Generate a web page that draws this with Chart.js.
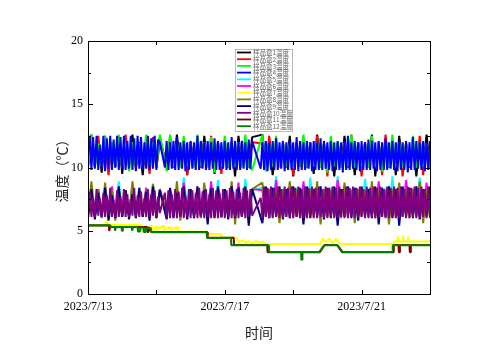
<!DOCTYPE html>
<html>
<head>
<meta charset="utf-8">
<script src="https://cdn.jsdelivr.net/npm/chart.js@4.4.0/dist/chart.umd.min.js"></script>
<style>
    html, body { margin: 0; padding: 0; background: #fff; }
    #wrap { width: 500px; height: 353px; }
</style>
</head>
<body>
<div id="wrap"><canvas id="tempChart" width="500" height="353"></canvas></div>
<script>
// days since 2023/7/13 00:00
const dayTicks = [0, 4, 8];
const dayTickLabels = ["2023/7/13", "2023/7/17", "2023/7/21"];
const tempTicks = [0, 5, 10, 15, 20];

const boxNames = ["样品盒1温度", "样品盒2温度", "样品盒3温度", "样品盒4温度", "样品盒5温度", "样品盒6温度",
    "样品盒7温度", "样品盒8温度", "样品盒9温度", "样品盒10温度", "样品盒11温度", "样品盒12温度"];
const boxColors = ["#000000", "#ff0000", "#00ff00", "#0000ff", "#00ffff", "#ff00ff",
    "#ffff00", "#808000", "#000080", "#800080", "#800000", "#008000"];

// readings every 0.1 day (coarse) or 0.05 day (fine); null = missing reading
const coarseStep = 0.1;
const fineStep = 0.05;

const box1Temps = [
    10.2, 12.6, 10.1, 12.0, 9.6, 12.5, 10.2, 11.9, 10.0, 12.4, 9.5, 12.0, 10.1, 12.6, 10.0, 11.9, 9.4, 12.3, 10.2, 12.0,
    10.0, 12.4, null, 10.1, 11.9, 10.0, 12.6, 10.2, 11.8, 9.4, 12.0, 10.1, 11.9, 10.0, 12.5, 10.1, 11.9, 9.5, 12.0, 10.2,
    11.9, 10.0, 12.0, 9.3, 12.5, 10.1, 11.9, 10.0, 12.4, null, null, 12.6, 10.1, 11.9, 9.4, 12.0, 10.2, 11.8, 10.0, 12.5,
    9.3, 11.9, 10.1, 12.0, 10.0, 11.9, 9.5, 12.6, 10.2, 11.9, 10.0, 12.0, 9.3, 11.9, 10.1, 12.5, 10.0, 11.9, 9.4, 12.0,
    10.2, 11.9, 10.0, 12.6, 9.3, 11.9, 10.1, 12.0, 10.0, 11.9, 9.4, 12.5, 10.2, 11.9, 10.0, 12.0, 9.3, 11.9, 10.1, 12.6, 10.0
];
const box2Temps = [
    10.0, 12.0, 10.1, 12.5, 10.0, 11.9, 9.4, 12.0, 10.1, 11.9, 10.0, 12.6, 10.2, 11.9, 10.0, 12.0, 10.1, 11.9, 9.5, 12.4,
    10.0, 11.9, null, 10.1, 12.5, 10.0, 11.9, 10.2, 12.0, 9.4, 11.9, 10.1, 12.0, 10.0, 11.9, 10.1, 12.5, 10.0, 11.9, 9.5,
    12.0, 10.1, 11.9, 10.0, 12.0, 10.2, 11.9, 10.0, 12.0, null, null, 11.9, 10.1, 12.5, 10.0, 11.9, 10.1, 12.0, 10.0, 11.9,
    9.4, 12.0, 10.1, 11.9, 10.0, 12.0, 10.2, 12.5, 10.0, 11.9, 9.3, 12.0, 10.1, 11.9, 10.0, 12.0, 10.2, 12.6, 10.0, 11.9,
    9.3, 12.0, 10.1, 11.9, 10.0, 12.0, 9.4, 12.6, 10.1, 11.9, 10.0, 12.0, 9.3, 11.9, 10.1, 12.0, 10.0, 12.5, 9.4, 11.9, 10.1
];
const box3Temps = [
    10.1, 12.6, 10.0, 11.9, 10.1, 12.5, 10.0, 12.0, 10.1, 12.6, 10.0, 11.9, 9.7, 12.0, 10.1, 11.9, 10.0, 12.6, 10.1, 12.0,
    10.0, 12.6, null, 9.7, 12.6, 10.1, 12.0, 10.0, 12.5, 10.1, 11.9, 10.0, 12.6, 10.1, 12.0, 10.0, 12.4, 9.6, 12.0, 10.1,
    12.5, 10.0, 11.9, 10.1, 12.0, 10.0, 12.6, 10.1, 9.8, null, null, 12.6, 9.7, 11.9, 10.1, 12.5, 10.0, 12.0, 10.1, 11.9,
    10.0, 12.0, 10.1, 12.6, 10.0, 11.9, 10.1, 12.0, 10.0, 11.9, 9.6, 12.5, 10.1, 12.0, 10.0, 11.9, 10.1, 12.6, 10.0, 12.0,
    10.1, 11.9, 10.0, 12.5, 10.1, 12.0, 9.7, 11.9, 10.0, 12.6, 10.1, 12.0, 10.0, 11.9, 10.1, 12.5, 10.0, 12.0, 10.1, 11.9, 10.0
];
const box4Temps = [
    11.0, 12.5, 9.8, 12.4, 9.9, 12.5, 9.8, 11.8, 9.9, 12.5, 9.7, 12.3, 9.9, 12.5, 9.8, 12.2, 10.0, 12.5, 9.8, 12.4,
    9.9, 12.5, 9.8, 12.1, 9.9, 12.5, 9.8, 12.3, 9.7, 12.5, 9.9, 12.4, 9.8, 12.0, 9.9, 12.5, 9.8, 12.3, 9.9, 12.5,
    9.8, 12.2, 12.0, null, null, 10.0, 12.1, 9.8, 12.0, 9.9, 12.1, 9.8, 12.4, 9.8, 12.0, 9.9, 12.1, 9.7, 12.0, 9.8,
    12.1, 9.9, 12.0, 9.8, 12.5, 9.8, 12.1, 9.9, 12.0, 9.8, 12.1, 9.8, 12.0, 9.9, 12.3, 9.8, 12.1, 9.8, 12.0, 9.9,
    12.1, 9.8, 12.0, 9.8, 12.4, 9.9, 12.1, 9.8, 12.0, 9.8, 12.1, 9.9, 12.0, 9.8, 12.2, 9.9, 12.1, null, null, null,
    null, 9.9, 12.0, 9.8, 12.1, 9.7, 12.0, 9.8, 12.1, 9.8, 12.3, 9.8, 12.0, 9.9, 12.1, 9.7, 12.0, 9.8, 12.1, 9.8,
    12.0, 9.8, 12.4, 9.7, 12.1, 9.8, 12.0, 9.8, 12.1, 9.9, 12.0, 9.7, 12.1, 9.8, 12.0, 9.8, 12.3, 9.8, 12.1, 9.9,
    12.0, 9.8, 12.1, 9.7, 12.0, 9.8, 12.1, 9.8, 12.0, 9.6, 12.1, 9.8, 12.5, 9.8, 12.0, 9.9, 12.1, 9.8, 12.0, 9.7,
    12.1, 9.8, 12.0, 9.8, 12.2, 9.8, 12.1, 9.9, 12.0, 9.7, 12.1, 9.8, 12.0, 9.8, 12.3, 9.8, 12.0, 9.9, 12.1, 9.8,
    12.0, 9.7, 12.1, 9.8, 12.0, 9.8, 12.1, 9.6, 12.0, 9.8, 12.4, 9.8, 12.1, 9.9, 12.0, 9.8, 12.1, 9.7, 12.0, 9.8,
    12.1, 9.9
];
const box5Temps = [
    6.5, 8.2, 6.3, 7.9, 6.4, 8.3, 6.3, 8.0, 6.5, 8.9, 6.3, 8.1, 6.4, 8.2, 6.3, 8.0, 6.4, 7.9, 6.3, 8.7,
    6.4, 8.2, null, 6.3, 8.3, 6.4, 8.2, 6.3, 9.2, 6.5, 8.3, 6.3, 8.2, 6.4, 8.4, 6.3, 8.2, 6.4, 9.0, 6.3,
    8.3, 6.4, 8.2, 6.3, 8.4, 6.4, 9.1, 6.3, 8.2, null, null, 8.4, 6.3, 8.2, 6.4, 9.3, 6.3, 8.3, 6.4, 8.2,
    6.3, 8.4, 6.4, 8.2, 6.3, 9.2, 6.4, 8.3, 6.3, 8.2, 6.4, 8.4, 6.3, 9.3, 6.4, 8.2, 6.3, 8.3, 6.4, 8.2,
    6.3, 9.1, 6.4, 8.3, 6.3, 8.2, 6.4, 8.4, 6.3, 9.3, 6.4, 8.2, 6.3, 8.3, 6.4, 8.2, 6.3, 9.2, 6.4, 8.3, 6.3
];
const box6Temps = [
    6.6, 7.8, 6.3, 8.3, 6.2, 7.6, 6.4, 8.5, 6.2, 7.9, 6.3, 8.2, 6.2, 8.6, 6.3, 7.8, 6.2, 8.4, 6.3, 8.0,
    6.2, 8.3, null, 6.4, 8.1, 6.2, 8.3, 6.3, 8.8, 6.2, 8.2, 6.3, 8.3, 6.2, 8.2, 6.3, 8.9, 6.2, 8.3, 6.3,
    8.2, 6.2, 8.3, 6.3, 8.8, 6.2, 8.2, 6.3, 8.3, null, null, 8.2, 6.2, 8.3, 6.3, 9.0, 6.2, 8.2, 6.3, 8.3,
    6.2, 8.2, 6.3, 8.9, 6.2, 8.3, 6.3, 8.2, 6.2, 8.3, 6.3, 8.2, 6.2, 9.0, 6.3, 8.3, 6.2, 8.2, 6.3, 8.3,
    6.2, 8.2, 6.3, 8.3, 6.2, 8.9, 6.3, 8.2, 6.2, 8.3, 6.3, 8.2, 6.2, 9.0, 6.3, 8.3, 6.2, 8.2, 6.3, 8.8, 6.2
];
const box7Days = [
    0, 0.5, 0.52, 0.54, 0.56, 0.58, 1.55, 1.56, 1.70, 1.72,
    1.85, 1.87, 2.00, 2.02, 2.20, 2.22, 2.40, 2.42, 2.62, 2.65,
    3.45, 3.48, 3.88, 3.92, 4.35, 4.40, 4.55, 4.60, 4.72, 4.78,
    4.92, 4.98, 5.12, 5.18, 6.80, 6.86, 6.95, 7.05, 7.15, 7.25,
    7.35, 7.42, 8.92, 8.95, 9.05, 9.06, 9.07, 9.20, 9.21, 9.22,
    9.35, 9.36, 9.37, 10.05
];
const box7Temps = [
    5.45, 5.45, 5.8, 5.45, 5.7, 5.45, 5.45, 5.0, 5.4, 5.05,
    5.4, 5.0, 5.35, 5.05, 5.4, 5.0, 5.3, 5.05, 5.3, 4.92,
    4.92, 4.75, 4.75, 4.45, 4.45, 4.1, 4.25, 4.05, 4.2, 4.0,
    4.2, 4.05, 4.15, 3.95, 3.95, 4.4, 4.1, 4.4, 4.05, 4.35,
    4.0, 3.95, 3.95, 4.15, 4.15, 4.6, 4.15, 4.15, 4.6, 4.15,
    4.15, 4.55, 4.15, 4.15
];
const box8Temps = [
    6.2, 8.9, 6.1, 8.3, 6.0, 8.8, 6.1, 8.2, 5.8, 8.3, 6.1, 8.2, 6.1, 8.9, 6.0, 8.3, 6.1, 8.2, 6.1, 8.7,
    6.0, 8.3, null, 6.1, 8.2, 6.1, 8.9, 5.8, 8.3, 6.1, 8.2, 6.1, 8.3, 6.0, 8.8, 6.1, 8.2, 6.1, 8.3, 6.0,
    8.2, 6.1, 8.9, 5.5, 8.3, 6.1, 8.2, 6.1, 8.3, null, null, 8.8, 6.1, 8.3, 6.1, 8.2, 5.6, 8.3, 6.1, 8.9,
    6.1, 8.3, 6.1, 8.2, 6.0, 8.3, 6.1, 8.9, 5.5, 8.3, 6.1, 8.2, 6.1, 8.3, 6.0, 8.8, 6.1, 8.2, 5.6, 8.3,
    6.1, 8.2, 6.1, 8.9, 6.0, 8.3, 6.1, 8.2, 5.5, 8.3, 6.1, 8.8, 6.1, 8.2, 6.0, 8.3, 6.1, 8.9, 5.6, 8.2, 6.1
];
const box9Temps = [
    6.0, 8.3, 5.9, 8.0, 6.1, 8.4, 5.8, 7.8, 6.0, 8.5, 6.1, 8.2, 5.9, 7.9, 6.0, 8.4, 6.1, 8.1, 5.8, 8.5,
    6.0, 8.2, null, 5.9, 8.4, 6.0, 8.0, 6.1, 8.5, 5.9, 8.3, 6.0, 8.5, 6.1, 8.2, 5.5, 8.4, 6.0, 8.5, 6.1,
    8.3, 5.9, 8.5, 6.0, 8.4, 6.1, 8.5, 5.4, 8.3, null, null, 5.6, 8.5, 6.0, 8.4, 6.1, 8.5, 5.9, 8.3, 6.0,
    8.5, 6.1, 8.4, 5.5, 8.5, 6.0, 8.3, 6.1, 8.5, 5.9, 8.4, 6.0, 8.5, 5.4, 8.3, 6.1, 8.5, 6.0, 8.4, 5.8,
    8.5, 6.1, 8.3, 6.0, 8.5, 5.5, 8.4, 6.1, 8.5, 6.0, 8.3, 5.4, 8.5, 6.1, 8.4, 6.0, 8.5, 5.9, 8.3, 6.1, 8.5
];
const box10Temps = [
    6.3, 8.1, 6.1, 7.6, 6.1, 8.3, 6.2, 7.5, 6.1, 8.0, 6.1, 7.8, 6.2, 8.4, 6.1, 7.4, 6.1, 8.2, 6.1, 7.7,
    6.2, 8.3, 6.1, 7.9, 6.1, 7.5, 6.2, 8.4, 6.1, 7.8, 6.1, 8.1, 6.2, 7.6, 6.1, 8.3, 6.1, 7.9, 6.2, 8.2,
    6.1, 7.7, 6.4, null, null, 8.0, 6.1, 8.2, 6.0, 7.9, 6.1, 8.3, 6.0, 8.1, 6.1, 8.4, 6.0, 7.8, 6.1, 8.3,
    6.0, 8.2, 6.1, 8.0, 6.0, 8.4, 6.1, 8.1, 6.0, 8.3, 6.1, 7.9, 6.0, 8.4, 6.1, 8.2, 6.0, 8.0, 6.1, 8.3,
    6.0, 8.2, 6.1, 8.4, 6.0, 8.1, 6.1, 8.3, 6.0, 8.0, 6.1, 8.4, 6.0, 8.2, 6.1, 8.3, 6.2, null, null, null,
    null, 7.6, 6.0, 8.5, 6.1, 8.4, 6.0, 8.5, 6.0, 8.4, 6.1, 8.5, 6.0, 8.3, 6.0, 8.5, 6.1, 8.4, 6.0, 8.5,
    6.0, 8.4, 6.1, 8.5, 6.0, 8.3, 6.0, 8.5, 6.0, 8.4, 6.1, 8.5, 6.0, 8.4, 6.0, 8.5, 6.1, 8.3, 6.0, 8.5,
    6.0, 8.4, 6.1, 8.5, 6.0, 8.4, 6.0, 8.5, 6.1, 8.3, 6.0, 8.5, 6.0, 8.4, 6.1, 8.5, 6.0, 8.4, 6.0, 8.5,
    6.1, 8.3, 6.0, 8.5, 6.0, 8.4, 6.1, 8.5, 6.0, 8.4, 6.0, 8.5, 6.1, 8.3, 6.0, 8.5, 6.0, 8.4, 6.1, 8.5,
    6.0, 8.4, 6.0, 8.5, 6.1, 8.3, 6.0, 8.5, 6.0, 8.4, 6.1, 8.5, 6.0, 8.4, 6.0, 8.5, 6.1, 8.3, 6.0, 8.5,
    6.0, 8.4
];
const box11Days = [
    0, 0.61, 0.62, 0.64, 0.65, 1.73, 1.74, 1.76, 1.77, 1.86,
    3.49, 3.50, 4.26, 4.27, 5.24, 5.25, 6.78, 6.92, 7.28, 7.43,
    8.93, 8.94, 9.08, 9.09, 9.11, 9.12, 9.40, 9.41, 9.43, 9.44,
    10.05
];
const box11Temps = [
    5.42, 5.42, 4.98, 4.98, 5.3, 5.3, 4.9, 4.9, 5.3, 4.9,
    4.9, 4.45, 4.45, 3.87, 3.87, 3.3, 3.3, 3.87, 3.87, 3.3,
    3.3, 3.87, 3.87, 3.3, 3.3, 3.87, 3.87, 3.3, 3.3, 3.87,
    3.87
];
const box12Days = [
    0, 0.65, 0.66, 0.78, 0.79, 0.81, 0.82, 0.98, 0.99, 1.01,
    1.02, 1.28, 1.29, 1.31, 1.32, 1.45, 1.46, 1.52, 1.53, 1.62,
    1.63, 1.68, 1.69, 1.84, 1.85, 3.47, 3.48, 4.18, 4.19, 5.29,
    5.30, 6.23, 6.24, 6.26, 6.27, 6.76, 6.90, 7.30, 7.45, 8.90,
    8.91, 10.05
];
const box12Temps = [
    5.43, 5.43, 5.3, 5.3, 5.0, 5.0, 5.3, 5.3, 5.0, 5.0,
    5.3, 5.3, 5.0, 5.0, 5.3, 5.3, 4.95, 4.95, 5.25, 5.25,
    4.9, 4.9, 5.2, 5.2, 4.88, 4.88, 4.43, 4.43, 3.85, 3.85,
    3.32, 3.32, 2.71, 2.71, 3.32, 3.32, 3.85, 3.85, 3.32, 3.32,
    3.85, 3.85
];

const serifFont = "'Liberation Serif', 'DejaVu Serif', serif";
const cjkFont = "'Noto Sans CJK SC', sans-serif";

function onGrid(temps, step) {
    return temps.map((t, i) => ({ x: i * step, y: t }));
}

function onDays(days, temps) {
    return days.map((d, i) => ({ x: d, y: temps[i] }));
}

const seriesPoints = [
    onGrid(box1Temps, coarseStep),
    onGrid(box2Temps, coarseStep),
    onGrid(box3Temps, coarseStep),
    onGrid(box4Temps, fineStep),
    onGrid(box5Temps, coarseStep),
    onGrid(box6Temps, coarseStep),
    onDays(box7Days, box7Temps),
    onGrid(box8Temps, coarseStep),
    onGrid(box9Temps, coarseStep),
    onGrid(box10Temps, fineStep),
    onDays(box11Days, box11Temps),
    onDays(box12Days, box12Temps)
];

// inward ticks on all four sides plus the frame
const frameTicks = {
    id: "frameTicks",
    afterDatasetsDraw(chart) {
        const { ctx, chartArea: a, scales: { x, y } } = chart;
        const half = (tempTicks[1] - tempTicks[0]) / 2;
        ctx.save();
        ctx.strokeStyle = "#000";
        ctx.lineWidth = 1;
        ctx.beginPath();
        x.ticks.forEach((t) => {
            const px = Math.round(x.getPixelForValue(t.value)) + 0.5;
            ctx.moveTo(px, a.bottom); ctx.lineTo(px, a.bottom - 4);
            ctx.moveTo(px, a.top); ctx.lineTo(px, a.top + 4);
        });
        y.ticks.forEach((t) => {
            const py = Math.round(y.getPixelForValue(t.value)) + 0.5;
            ctx.moveTo(a.left, py); ctx.lineTo(a.left + 5, py);
            ctx.moveTo(a.right, py); ctx.lineTo(a.right - 5, py);
            if (t.value < y.max) {
                const pm = Math.round(y.getPixelForValue(t.value + half)) + 0.5;
                ctx.moveTo(a.left, pm); ctx.lineTo(a.left + 3, pm);
                ctx.moveTo(a.right, pm); ctx.lineTo(a.right - 3, pm);
            }
        });
        ctx.stroke();
        ctx.strokeRect(Math.round(a.left) + 0.5, Math.round(a.top) + 0.5,
            Math.round(a.right - a.left), Math.round(a.bottom - a.top));
        ctx.restore();
    }
};

const boxLegend = {
    id: "boxLegend",
    afterDraw(chart) {
        const ctx = chart.ctx;
        const sets = chart.data.datasets;
        const left = 235, top = 49, width = 57, rowH = 6.7;
        const height = 8.3 + rowH * (sets.length - 1);
        ctx.save();
        ctx.fillStyle = "#fff";
        ctx.fillRect(left, top, width, height);
        ctx.strokeStyle = "#aaa";
        ctx.lineWidth = 0.8;
        ctx.strokeRect(left + 0.5, top + 0.5, width, height);
        ctx.font = "6.5px " + cjkFont;
        ctx.textBaseline = "middle";
        sets.forEach((ds, i) => {
            const cy = top + 3.5 + i * rowH;
            ctx.strokeStyle = ds.borderColor;
            ctx.lineWidth = 1.8;
            ctx.beginPath();
            ctx.moveTo(left + 2, cy);
            ctx.lineTo(left + 16, cy);
            ctx.stroke();
            ctx.fillStyle = "#666";
            ctx.fillText(ds.label, left + 18, cy + 0.3);
        });
        ctx.restore();
    }
};

new Chart(document.getElementById("tempChart"), {
    type: "line",
    data: {
        datasets: boxNames.map((name, i) => ({
            label: name,
            data: seriesPoints[i],
            borderColor: boxColors[i],
            backgroundColor: boxColors[i],
            borderWidth: 2,
            borderJoinStyle: "bevel",
            pointRadius: 0,
            tension: 0,
            spanGaps: true,
            order: boxNames.length - i
        }))
    },
    options: {
        responsive: false,
        animation: false,
        events: [],
        layout: { padding: { top: 41, right: 70, left: 0, bottom: 0 } },
        plugins: {
            legend: { display: false },
            tooltip: { enabled: false }
        },
        scales: {
            x: {
                type: "linear",
                min: 0,
                max: 10,
                afterFit: (s) => { s.height = 59; },
                grid: { display: false, drawTicks: false },
                border: { display: false },
                ticks: {
                    stepSize: 2,
                    includeBounds: false,
                    autoSkip: false,
                    maxRotation: 0,
                    padding: 6,
                    color: "#000",
                    font: { family: serifFont, size: 12 },
                    callback: (v) => {
                        const k = dayTicks.indexOf(v);
                        return k >= 0 ? dayTickLabels[k] : "";
                    }
                },
                title: {
                    display: true,
                    text: "时间",
                    color: "#222",
                    font: { family: cjkFont, size: 14 },
                    padding: { top: 0, bottom: 12 }
                }
            },
            y: {
                min: tempTicks[0],
                max: tempTicks[tempTicks.length - 1],
                afterFit: (s) => { s.width = 88; },
                grid: { display: false, drawTicks: false },
                border: { display: false },
                ticks: {
                    stepSize: tempTicks[1] - tempTicks[0],
                    padding: 5,
                    color: "#000",
                    font: { family: serifFont, size: 12 }
                },
                title: {
                    display: true,
                    text: "温度（℃）",
                    color: "#222",
                    font: { family: cjkFont, size: 14 },
                    padding: { top: 53, bottom: 0 }
                }
            }
        }
    },
    plugins: [frameTicks, boxLegend]
});
</script>
</body>
</html>
